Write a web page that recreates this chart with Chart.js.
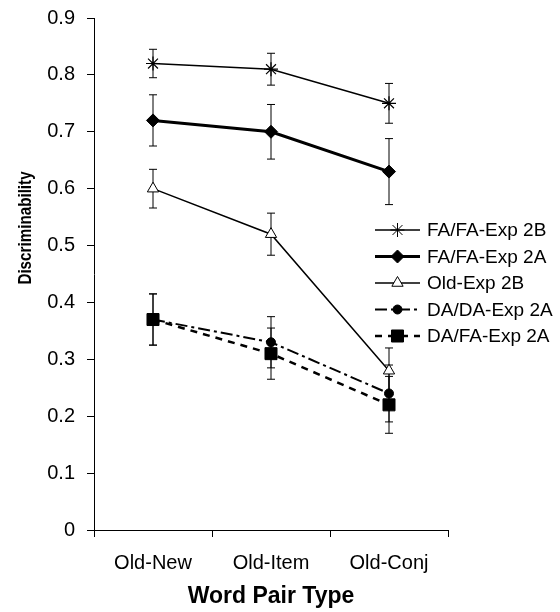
<!DOCTYPE html>
<html><head><meta charset="utf-8">
<script src="https://cdn.jsdelivr.net/npm/chart.js@4/dist/chart.umd.min.js"></script>
<style>html,body{margin:0;padding:0;background:#fff}#wrap{width:560px;height:612px}</style>
</head><body><div id="wrap"><canvas id="c" width="560" height="612"></canvas></div>
<script>
const categories = ["Old-New", "Old-Item", "Old-Conj"];
const seriesNames = ["FA/FA-Exp 2B", "FA/FA-Exp 2A", "Old-Exp 2B", "DA/DA-Exp 2A", "DA/FA-Exp 2A"];
const faFaExp2B = [0.82, 0.81, 0.75];
const faFaExp2A = [0.72, 0.70, 0.63];
const oldExp2B = [0.60, 0.52, 0.28];
const daDaExp2A = [0.37, 0.33, 0.24];
const daFaExp2A = [0.37, 0.31, 0.22];
const errFaFaExp2B = [0.025, 0.028, 0.035];
const errFaFaExp2A = [0.045, 0.048, 0.058];
const errOldExp2B = [0.034, 0.037, 0.04];
const errDaDaExp2A = [0.045, 0.045, 0.05];
const errDaFaExp2A = [0.045, 0.045, 0.05];
const yTicks = [0, 0.1, 0.2, 0.3, 0.4, 0.5, 0.6, 0.7, 0.8, 0.9];

const FONT = "'Liberation Sans', Arial, sans-serif";
const errs = [errFaFaExp2B, errFaFaExp2A, errOldExp2B, errDaDaExp2A, errDaFaExp2A];

const errorBars = {
  id: 'errorBars',
  beforeDatasetsDraw(chart) {
    const ctx = chart.ctx, y = chart.scales.y;
    ctx.save();
    ctx.strokeStyle = '#000'; ctx.lineWidth = 1;
    chart.data.datasets.forEach((ds, i) => {
      const meta = chart.getDatasetMeta(i);
      meta.data.forEach((pt, j) => {
        const v = ds.data[j], e = errs[i][j];
        const yt = y.getPixelForValue(v + e), yb = y.getPixelForValue(v - e);
        const x = pt.x;
        ctx.beginPath();
        ctx.moveTo(x, yt); ctx.lineTo(x, yb);
        ctx.moveTo(x - 4, yt); ctx.lineTo(x + 4, yt);
        ctx.moveTo(x - 4, yb); ctx.lineTo(x + 4, yb);
        ctx.stroke();
      });
    });
    ctx.restore();
  }
};

const customLegend = {
  id: 'customLegend',
  afterDraw(chart) {
    const ctx = chart.ctx;
    ctx.save();
    const x0 = 375, x1 = 420, tx = 427;
    const ys = [230, 256.5, 283, 309.5, 336];
    chart.data.datasets.forEach((ds, i) => {
      const yy = ys[i];
      ctx.save();
      ctx.strokeStyle = '#000';
      ctx.lineWidth = ds.borderWidth;
      ctx.setLineDash(ds.borderDash || []);
      ctx.beginPath(); ctx.moveTo(x0, yy); ctx.lineTo(x1, yy); ctx.stroke();
      ctx.restore();
      ctx.save();
      ctx.fillStyle = ds.pointBackgroundColor; ctx.strokeStyle = '#000'; ctx.lineWidth = 1;
      Chart.helpers.drawPoint(ctx, {pointStyle: ds.pointStyle, rotation: 0, borderWidth: 1, radius: ds.pointRadius}, (x0 + x1) / 2, yy);
      ctx.restore();
      ctx.fillStyle = '#000';
      ctx.font = '19px ' + FONT;
      ctx.textBaseline = 'middle';
      ctx.fillText(ds.label, tx, yy + 1);
    });
    // y-axis title
    ctx.save();
    ctx.translate(26, 228);
    ctx.rotate(-Math.PI / 2);
    ctx.scale(0.8, 1);
    ctx.font = 'bold 19px ' + FONT;
    ctx.textAlign = 'center'; ctx.textBaseline = 'middle';
    ctx.fillStyle = '#000';
    ctx.fillText('Discriminability', 0, 0);
    ctx.restore();
    ctx.restore();
  }
};

function mk(label, data, opts) {
  return Object.assign({label, data, borderColor: '#000', pointBorderColor: '#000', pointBorderWidth: 1,
    fill: false, tension: 0, pointHoverRadius: 0}, opts);
}

new Chart(document.getElementById('c'), {
  type: 'line',
  data: {
    labels: categories,
    datasets: [
      mk(seriesNames[0], faFaExp2B, {borderWidth: 1.5, pointStyle: 'star', pointRadius: 7, pointBackgroundColor: '#000', pointBorderWidth: 1.2}),
      mk(seriesNames[1], faFaExp2A, {borderWidth: 3, pointStyle: 'rectRot', pointRadius: 6.5, pointBackgroundColor: '#000'}),
      mk(seriesNames[2], oldExp2B, {borderWidth: 1.5, pointStyle: 'triangle', pointRadius: 6.5, pointBackgroundColor: '#fff'}),
      mk(seriesNames[3], daDaExp2A, {borderWidth: 2, borderDash: [12, 4, 3, 4], pointStyle: 'circle', pointRadius: 4.5, pointBackgroundColor: '#000'}),
      mk(seriesNames[4], daFaExp2A, {borderWidth: 2.5, borderDash: [7, 6], pointStyle: 'rect', pointRadius: 8.5, pointBackgroundColor: '#000'})
    ]
  },
  options: {
    responsive: false,
    animation: false,
    events: [],
    layout: {padding: {left: 0, right: 112, top: 18, bottom: 2}},
    plugins: {legend: {display: false}, tooltip: {enabled: false}},
    scales: {
      x: {
        offset: true,
        grid: {offset: true, drawOnChartArea: false, drawTicks: true, tickLength: 7, color: '#000', tickColor: '#000', lineWidth: 1},
        border: {display: true, color: '#000', width: 1},
        ticks: {color: '#000', font: {family: FONT, size: 20}, padding: 14, maxRotation: 0},
        title: {display: true, text: 'Word Pair Type', color: '#000', font: {family: FONT, size: 23, weight: 'bold'}, padding: {top: 4, bottom: 0}},
        afterFit(s) { s.height = 80; s.paddingLeft = 0; s.paddingRight = 0; }
      },
      y: {
        min: 0, max: 0.9,
        afterBuildTicks(s) { s.ticks = yTicks.map(v => ({value: v})); },
        grid: {drawOnChartArea: false, drawTicks: true, tickLength: 7, color: '#000', tickColor: '#000'},
        border: {display: true, color: '#000', width: 1},
        ticks: {color: '#000', font: {family: FONT, size: 20}, padding: 12, callback: v => (v === 0 ? '0' : v.toFixed(1))},
        afterFit(s) { s.width = 94; s.paddingTop = 0; s.paddingBottom = 0; }
      }
    }
  },
  plugins: [errorBars, customLegend]
});
</script>
</body></html>
